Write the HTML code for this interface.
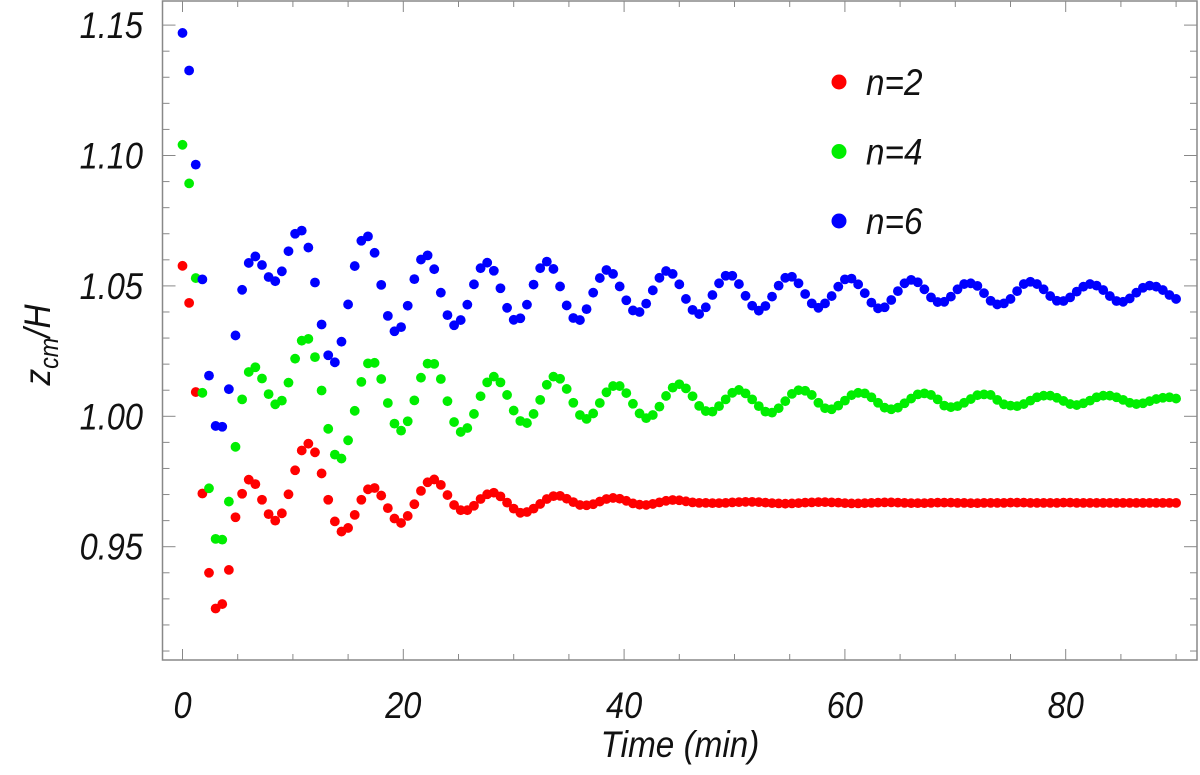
<!DOCTYPE html>
<html><head><meta charset="utf-8"><style>
body{margin:0;background:#fff;}
svg text{font-family:"Liberation Sans",sans-serif;font-style:italic;fill:#111;}
</style></head><body>
<svg id="chart" width="1200" height="770" xmlns="http://www.w3.org/2000/svg">
<g id="axes"></g>
<g id="marks"></g>
<g id="legend"></g>
<text transform="translate(680,757) scale(0.9,1)" font-size="37" text-anchor="middle">Time (min)</text>
<text transform="translate(50,345) rotate(-90) scale(0.9,1)" font-size="37" text-anchor="middle">z<tspan font-size="26" dy="8">cm</tspan><tspan dy="-8">/H</tspan></text>
</svg>
<script>
const dt = 0.6;
const red = [1.0577,1.0435,1.0093,0.9704,0.940,0.9263,0.928,0.9411,0.9613,0.9703,0.9757,0.974,0.968,0.9625,0.96,0.9628,0.9701,0.9793,0.9869,0.9895,0.9862,0.9781,0.968,0.9597,0.9558,0.9572,0.9622,0.968,0.972,0.9725,0.9696,0.9648,0.9608,0.9591,
0.9618,0.9663,0.9714,0.9747,0.9758,0.9737,0.9698,0.966,0.964,0.964,0.9657,0.9683,0.9701,0.9707,0.9693,0.9669,0.9646,0.963,0.9633,0.9646,0.9664,0.9683,0.9694,0.9695,0.9684,0.9671,0.966,0.9659,0.9663,0.9673,0.9683,0.9687,0.9684,0.9676,0.9666,0.9661,0.966,0.9664,0.967,0.9676,0.9679,0.9678,0.9674,0.967,0.9668,
0.9668,0.9667,0.9667,0.9668,0.9670,0.9671,0.9672,0.9672,0.9671,0.9669,0.9667,0.9666,0.9665,0.9666,0.9667,0.9669,0.9670,0.9671,0.9671,0.9670,0.9669,0.9667,0.9666,0.9666,0.9667,0.9668,0.9669,0.9670,0.9670,0.9669,0.9668,0.9667,0.9667,0.9667,0.9668,0.9669,0.9669,0.9669,0.9668,0.9668,0.9667,0.9667,0.9668,0.9668,
0.9668,0.9668,0.9669,0.9669,0.9669,0.9668,0.9668,0.9668,0.9668,0.9668,0.9669,0.9669,0.9668,0.9668,0.9668,0.9668,0.9668,0.9668,0.9668,0.9668,0.9668,0.9668,0.9668,0.9668,0.9668,0.9668,0.9668,0.9668];
const green = [1.1041,1.0893,1.053,1.009,0.9724,0.953,0.9527,0.9673,0.9883,1.0065,1.017,1.0188,1.0145,1.0085,1.0046,1.006,1.0129,1.0221,1.029,1.0297,1.0227,1.0099,0.9952,0.9853,0.9838,0.9908,1.0021,1.0132,1.0203,1.0205,1.0143,1.0051,0.9972,
0.9945,0.9981,1.0061,1.0148,1.0202,1.0201,1.0143,1.0058,0.9978,0.994,0.9955,1.0009,1.0077,1.013,1.0152,1.013,1.0082,1.0022,0.9982,0.9974,1.0009,1.0063,1.0121,1.0152,1.0144,1.0105,1.0052,1.0005,0.999,1.0011,1.0051,1.0092,1.0116,1.0116,1.0089,1.0048,1.0011,0.9993,1.0005,1.0037,1.0078,1.011,1.0123,1.0107,1.0077,1.004,
1.002,1.0018,1.0039,1.0065,1.009,1.0101,1.0088,1.0065,1.0039,1.0018,1.0014,1.0031,1.0058,1.0086,1.01,1.0098,1.0082,1.0052,1.0031,1.0027,1.0041,1.006,1.0081,1.009,1.0088,1.0073,1.0052,1.0033,1.0027,1.0033,1.005,1.0068,1.0084,1.0088,1.0082,1.0065,1.0041,1.0035,1.0039,1.0052,1.0066,1.0081,1.0084,1.0082,
1.0063,1.0046,1.0041,1.0039,1.0047,1.006,1.0073,1.0079,1.0079,1.0071,1.0059,1.0047,1.0043,1.005,1.006,1.0073,1.0079,1.0079,1.0073,1.0063,1.0052,1.0047,1.005,1.0058,1.0066,1.0071,1.0073,1.0068];
const blue = [1.147,1.1326,1.0965,1.0525,1.0156,0.9963,0.996,1.0104,1.031,1.0485,1.0588,1.0613,1.058,1.0534,1.0518,1.0556,1.0633,1.070,1.0712,1.0647,1.0513,1.0352,1.0234,1.0207,1.0286,1.0429,1.0576,1.0673,1.069,1.0627,1.0504,1.0385,1.0326,
1.0342,1.0424,1.0526,1.0601,1.0617,1.0564,1.0474,1.0388,1.0349,1.0369,1.0428,1.0506,1.0568,1.0589,1.0558,1.0491,1.0416,1.0370,1.0376,1.0428,1.0505,1.0568,1.0593,1.0565,1.0498,1.0425,1.0377,1.0369,1.0411,1.0474,1.0530,1.0561,1.0546,1.0498,1.0445,1.0406,1.0400,1.0432,1.0483,1.0531,1.0557,1.0546,1.0506,1.0450,1.0408,1.0392,
1.0418,1.0465,1.051,1.0539,1.0539,1.0507,1.0462,1.0424,1.0405,1.0423,1.0459,1.0501,1.0531,1.0535,1.051,1.0469,1.0433,1.0416,1.0433,1.0461,1.0497,1.0525,1.0528,1.0506,1.0472,1.0436,1.0414,1.0418,1.0446,1.048,1.051,1.0523,1.0514,1.0487,1.0456,1.0438,1.0439,1.0459,1.0487,1.0507,1.051,1.05,1.0472,1.0443,
1.0429,1.0433,1.045,1.048,1.0507,1.0516,1.0507,1.0487,1.0461,1.0443,1.0442,1.0456,1.0478,1.0497,1.0507,1.0501,1.0484,1.0461,1.0442,1.0439,1.0452,1.0474,1.0493,1.0501,1.0497,1.0484,1.0465,1.045];
const seriesNames = ["n=2","n=4","n=6"];
const seriesColors = ["#ff0000","#00ee00","#0000ff"];
const xTicks = [0,20,40,60,80];
const yTicks = [0.95,1.00,1.05,1.10,1.15];

const L=162.5,R=1197,T=1,B=660;
function xs(t){return 182.5+t*11.04;}
function ys(v){return 416.3-(v-1)*2608;}
const NS="http://www.w3.org/2000/svg";
function mk(tag,attrs,parent){const e=document.createElementNS(NS,tag);for(const k in attrs)e.setAttribute(k,attrs[k]);parent.appendChild(e);return e;}
const axes=document.getElementById('axes');
const frame=mk('rect',{x:L,y:T,width:R-L,height:B-T,fill:'none',stroke:'#888','stroke-width':1.5},axes);


for(let t=0;t<=90;t+=5){
  const len=(t%20===0)?11:6;const x=xs(t);
  const a=mk('line',{x1:x,x2:x,y1:B,y2:B-len,stroke:'#888','stroke-width':1},axes);
  
  
  const b=mk('line',{x1:x,x2:x,y1:T,y2:T+len,stroke:'#888','stroke-width':1},axes);
  
  
}
for(let k=91;k<=116;k++){
  const v=k/100;const y=ys(v);if(y<T||y>B)continue;
  const len=(k%5===0)?13:7;
  const a=mk('line',{x1:L,x2:L+len,y1:y,y2:y,stroke:'#888','stroke-width':1},axes);
  
  
  const b=mk('line',{x1:R,x2:R-len,y1:y,y2:y,stroke:'#888','stroke-width':1},axes);
  
  
}
xTicks.forEach(t=>{
  const e=mk('text',{transform:'translate('+xs(t)+',718) scale(0.88,1)','font-size':37,'text-anchor':'middle'},axes);
  e.textContent=String(t);
  
  
});
yTicks.forEach(v=>{
  const e=mk('text',{transform:'translate(143,'+(ys(v)+13)+') scale(0.88,1)','font-size':37,'text-anchor':'end'},axes);
  e.textContent=v.toFixed(2);
  
  
});
const marks=document.getElementById('marks');
[red,green,blue].forEach((arr,s)=>{
  const g=mk('g',{fill:seriesColors[s]},marks);
  
  
  arr.forEach((v,i)=>{
    const c=mk('circle',{cx:xs(i*dt),cy:ys(v),r:4.9},g);
    
    
  });
});
const legend=document.getElementById('legend');
seriesNames.forEach((n,s)=>{
  const y=82+s*69.5;
  const c=mk('circle',{cx:839,cy:y,r:7.5,fill:seriesColors[s]},legend);
  
  
  const t=mk('text',{transform:'translate(866,'+(y+13)+') scale(0.9,1)','font-size':37},legend);
  t.textContent=n;
  
  
});
</script>
</body></html>
